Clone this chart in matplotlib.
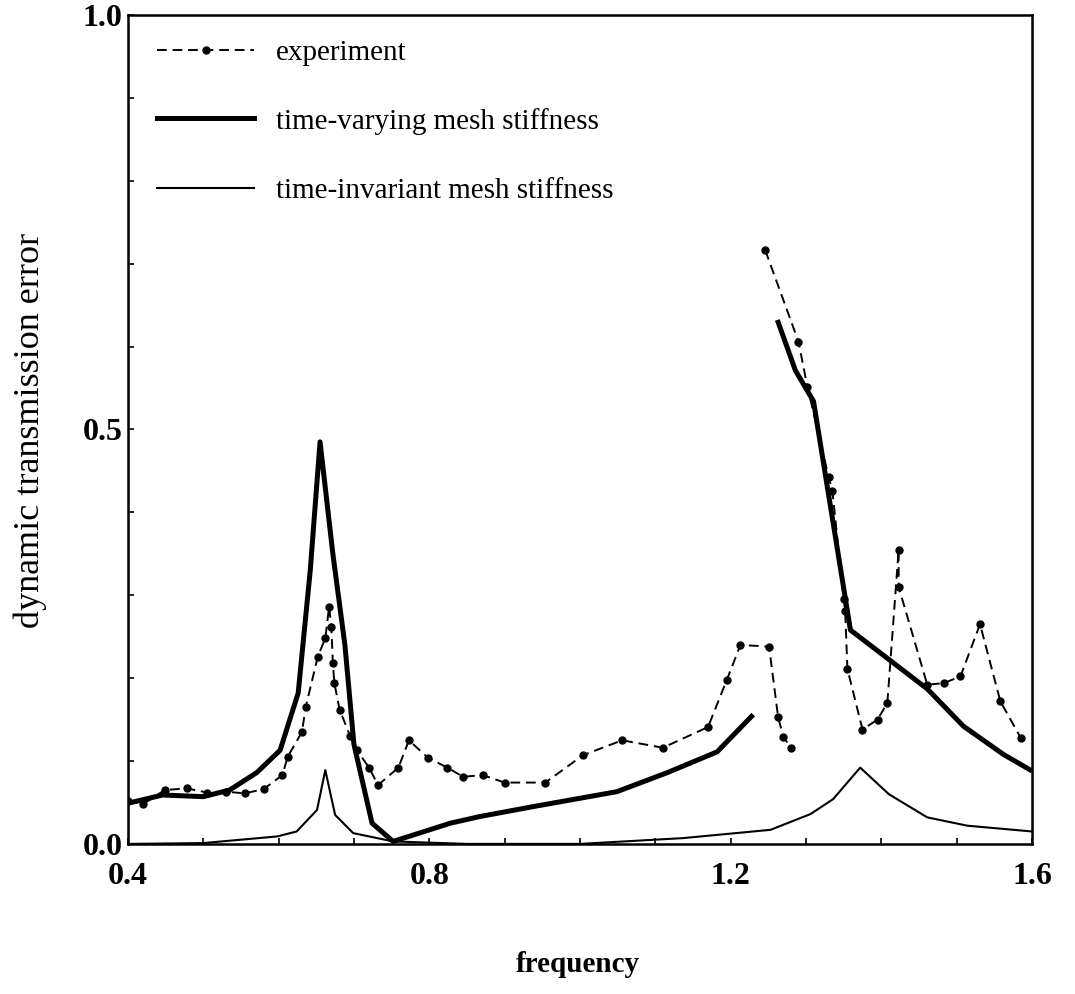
import numpy as np
import matplotlib.pyplot as plt
from matplotlib.lines import Line2D

# experiment (dashed, dotted markers), two separate runs
exp1_f = [0.40, 0.42, 0.449, 0.478, 0.505, 0.53, 0.555, 0.58, 0.605, 0.612, 0.631, 0.636,
          0.652, 0.662, 0.667, 0.670, 0.672, 0.674, 0.681, 0.695, 0.704, 0.72, 0.732, 0.759,
          0.773, 0.798, 0.824, 0.845, 0.871, 0.90, 0.954, 1.004, 1.056, 1.11, 1.17, 1.195,
          1.213, 1.251, 1.263, 1.27, 1.28]
exp1_e = [0.052, 0.048, 0.065, 0.067, 0.062, 0.063, 0.061, 0.066, 0.083, 0.105, 0.135, 0.165,
          0.226, 0.248, 0.286, 0.262, 0.218, 0.194, 0.162, 0.130, 0.113, 0.092, 0.071, 0.092,
          0.125, 0.104, 0.092, 0.081, 0.083, 0.074, 0.074, 0.107, 0.125, 0.116, 0.141, 0.198,
          0.240, 0.238, 0.153, 0.129, 0.116]
exp2_f = [1.246, 1.29, 1.302, 1.33, 1.335, 1.35, 1.352, 1.355, 1.375, 1.395, 1.408, 1.423,
          1.423, 1.461, 1.483, 1.505, 1.531, 1.558, 1.585]
exp2_e = [0.716, 0.606, 0.551, 0.443, 0.426, 0.296, 0.281, 0.211, 0.138, 0.150, 0.170, 0.355,
          0.310, 0.192, 0.194, 0.202, 0.265, 0.172, 0.128]

# time-varying mesh stiffness (thick), two branches
tv1_f = [0.40, 0.446, 0.50, 0.535, 0.571, 0.602, 0.626, 0.642, 0.655, 0.672, 0.688, 0.70,
         0.724, 0.752, 0.828, 0.867, 0.938, 1.049, 1.116, 1.182, 1.23]
tv1_e = [0.049, 0.059, 0.057, 0.065, 0.086, 0.113, 0.182, 0.33, 0.485, 0.35, 0.24, 0.12,
         0.025, 0.003, 0.025, 0.033, 0.045, 0.063, 0.086, 0.111, 0.156]
tv2_f = [1.262, 1.286, 1.31, 1.359, 1.461, 1.509, 1.562, 1.60]
tv2_e = [0.632, 0.571, 0.534, 0.258, 0.187, 0.142, 0.108, 0.088]

# time-invariant mesh stiffness (thin)
ti_f = [0.40, 0.50, 0.598, 0.624, 0.651, 0.662, 0.675, 0.699, 0.752, 0.85, 1.00, 1.137,
        1.253, 1.306, 1.336, 1.372, 1.41, 1.461, 1.514, 1.60]
ti_e = [0.0, 0.001, 0.009, 0.015, 0.041, 0.089, 0.035, 0.013, 0.003, 0.0, 0.0, 0.007,
        0.017, 0.036, 0.054, 0.092, 0.060, 0.032, 0.022, 0.015]

legend_labels = ['experiment', 'time-varying mesh stiffness', 'time-invariant mesh stiffness']

plt.rcParams['font.family'] = ['Liberation Serif', 'DejaVu Serif']

fig = plt.figure(figsize=(10.75, 9.94), dpi=100)
ax = fig.add_axes([0.119, 0.151, 0.841, 0.834])

dash = (0, (5, 3))
for f, e in [(exp1_f, exp1_e), (exp2_f, exp2_e)]:
    ax.plot(f, e, color='black', lw=1.4, linestyle=dash, marker='o', markersize=5)
for f, e in [(tv1_f, tv1_e), (tv2_f, tv2_e)]:
    ax.plot(f, e, color='black', lw=3.6, solid_capstyle='butt')
ax.plot(ti_f, ti_e, color='black', lw=1.5)

# legend drawn by hand inside the axes
rows = [0.958, 0.876, 0.791]
styles = [dict(lw=1.4, linestyle=dash), dict(lw=3.6), dict(lw=1.5)]
for r, st, lab in zip(rows, styles, legend_labels):
    ax.add_line(Line2D([0.032, 0.14], [r, r], transform=ax.transAxes, color='black', **st))
    ax.text(0.164, r - 0.004, lab, transform=ax.transAxes, fontsize=21, va='center')
ax.plot([0.086], [rows[0]], transform=ax.transAxes, color='black', marker='o', markersize=5)

ax.set_xlim(0.4, 1.6)
ax.set_ylim(0.0, 1.0)
ax.set_xticks([0.4, 0.8, 1.2, 1.6])
ax.set_xticklabels(['0.4', '0.8', '1.2', '1.6'])
ax.set_yticks([0.0, 0.5, 1.0])
ax.set_yticklabels(['0.0', '0.5', '1.0'])
ax.set_xticks(np.arange(0.4, 1.61, 0.1), minor=True)
ax.set_yticks(np.arange(0.0, 1.01, 0.1), minor=True)
ax.tick_params(which='both', direction='in', length=4, width=1.2, labelsize=23)
ax.tick_params(axis='x', which='major', pad=13)
ax.tick_params(axis='y', which='major', pad=4)
for lab in ax.get_xticklabels() + ax.get_yticklabels():
    lab.set_fontweight('bold')
for sp in ax.spines.values():
    sp.set_linewidth(1.8)

fig.text(0.537, 0.03, 'frequency', ha='center', va='center', fontsize=21, fontweight='bold')
fig.text(0.028, 0.567, 'dynamic transmission error', rotation=90, ha='center', va='center',
         fontsize=26)

fig.savefig('out.png', dpi=100)
